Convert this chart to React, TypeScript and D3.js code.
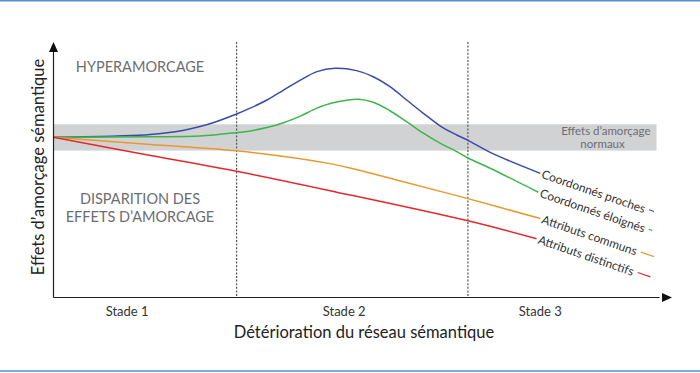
import React, { useEffect, useRef } from "react";
import * as d3 from "d3";

// x: détérioration (0-100), y: effet d'amorçage (0-100)
const coordProches: [number, number][] = [
  [0, 62.7], [10.3, 63.2], [15.6, 63.8], [20.9, 65.4], [23.7, 66.9], [26.4, 68.9],
  [29.5, 71.7], [31.8, 74.1], [34.5, 77.3], [37.2, 81.2], [39.9, 85.1], [42.6, 88.4],
  [45.5, 89.7], [49.0, 88.8], [51.7, 86.4], [54.4, 82.5], [57.1, 77.3], [59.8, 72.1],
  [62.5, 67.2], [65.2, 63.6], [67.1, 61.4], [70.6, 56.8], [78.7, 48.6],
];
const coordEloignes: [number, number][] = [
  [0, 62.7], [15.6, 62.9], [23.7, 63.2], [29.5, 64.5], [31.8, 65.2], [34.5, 66.5],
  [37.2, 68.4], [39.9, 71.0], [42.6, 74.1], [45.2, 76.2], [49.3, 77.6], [51.7, 76.4],
  [54.4, 73.1], [57.1, 68.8], [59.8, 64.3], [62.5, 60.4], [65.2, 57.1], [67.1, 54.5],
  [70.6, 50.6], [78.4, 41.2],
];
const attrCommuns: [number, number][] = [
  [0, 62.7], [15.7, 59.9], [29.6, 57.4], [44.7, 52.4], [48.8, 50.2], [56.1, 45.6],
  [67.0, 38.7], [78.7, 30.9],
];
const attrDistinctifs: [number, number][] = [
  [0, 62.7], [15.7, 55.6], [29.6, 49.4], [44.7, 41.8], [67.0, 30.0], [78.1, 23.0],
];

const seriesNames = ["Coordonnés proches", "Coordonnés éloignés", "Attributs communs", "Attributs distinctifs"];
const seriesColors = ["#3b4ba3", "#3db54a", "#e69a2e", "#e2292d"];
const seriesData = [coordProches, coordEloignes, attrCommuns, attrDistinctifs];

const stageNames = ["Stade 1", "Stade 2", "Stade 3"];
const stageLabelX = [11.9, 47.0, 78.7];
const stageBounds = [29.6, 67.0];
const normalBand = [57.5, 67.8];
const bandEnd = 97.5;

const App = () => {
  const svgRef = useRef<SVGSVGElement>(null);

  useEffect(() => {
    const width = 700,
      height = 373;
    const font = "Lato, 'Open Sans', sans-serif";

    const svg = d3.select(svgRef.current);
    svg.selectAll("*").remove();

    const x = d3.scaleLinear().domain([0, 100]).range([53.5, 672]);
    const y = d3.scaleLinear().domain([0, 100]).range([297.5, 42]);

    // frame lines (top / bottom)
    svg.append("line").attr("x1", 0).attr("x2", width).attr("y1", 0.8).attr("y2", 0.8)
      .attr("stroke", "#5b8fd0").attr("stroke-width", 1.6);
    svg.append("line").attr("x1", 0).attr("x2", width).attr("y1", height - 2).attr("y2", height - 2)
      .attr("stroke", "#5b8fd0").attr("stroke-width", 1.6);

    // grey band: normal priming
    svg.append("rect")
      .attr("x", x(0))
      .attr("y", y(normalBand[1]))
      .attr("width", x(bandEnd) - x(0))
      .attr("height", y(normalBand[0]) - y(normalBand[1]))
      .attr("fill", "#d1d2d4");

    svg.append("text")
      .attr("x", x(bandEnd) - 6)
      .attr("y", y(normalBand[1]) + 10.5)
      .attr("text-anchor", "end")
      .attr("font-family", font).attr("font-size", 11.5).attr("fill", "#6d6e71")
      .text("Effets d’amorçage");
    svg.append("text")
      .attr("x", x(bandEnd) - 54)
      .attr("y", y(normalBand[1]) + 24)
      .attr("text-anchor", "middle")
      .attr("font-family", font).attr("font-size", 11.5).attr("fill", "#6d6e71")
      .text("normaux");

    // stage boundaries
    stageBounds.forEach((b) => {
      svg.append("line")
        .attr("x1", x(b)).attr("x2", x(b))
        .attr("y1", y(100)).attr("y2", y(0))
        .attr("stroke", "#555").attr("stroke-width", 1.2)
        .attr("stroke-dasharray", "2,1.6");
    });

    // region labels
    const regions = [
      { t: "HYPERAMORCAGE", yy: 71.5 },
      { t: "DISPARITION DES", yy: 204 },
      { t: "EFFETS D’AMORCAGE", yy: 221.5 },
    ];
    regions.forEach((r) => {
      svg.append("text")
        .attr("x", 140).attr("y", r.yy)
        .attr("text-anchor", "middle")
        .attr("font-family", font).attr("font-size", 14.5).attr("fill", "#6d6e71")
        .text(r.t);
    });

    // curves
    const line = d3.line<[number, number]>()
      .x((d) => x(d[0]))
      .y((d) => y(d[1]))
      .curve(d3.curveCatmullRom.alpha(0.5));

    seriesData.forEach((data, i) => {
      svg.append("path")
        .attr("d", line(data))
        .attr("fill", "none")
        .attr("stroke", seriesColors[i])
        .attr("stroke-width", 1.5);

      const last = data[data.length - 1];
      const g = svg.append("g")
        .attr("transform", `translate(${x(last[0])}, ${y(last[1])}) rotate(19)`);
      const label = g.append("text")
        .attr("x", 2).attr("y", 4)
        .attr("font-family", font).attr("font-size", 12).attr("fill", "#333")
        .text(seriesNames[i]);
      const len = (label.node() as SVGTextElement).getComputedTextLength();
      g.append("line")
        .attr("x1", len + 6).attr("x2", 120)
        .attr("y1", -1).attr("y2", -1)
        .attr("stroke", seriesColors[i]).attr("stroke-width", 1.2);
    });

    // axes with arrows
    svg.append("line")
      .attr("x1", x(0)).attr("x2", x(0)).attr("y1", y(0)).attr("y2", y(97))
      .attr("stroke", "#222").attr("stroke-width", 1.2);
    svg.append("line")
      .attr("x1", x(0)).attr("x2", x(98)).attr("y1", y(0)).attr("y2", y(0))
      .attr("stroke", "#222").attr("stroke-width", 1.2);
    svg.append("path")
      .attr("d", `M${x(0)},${y(100)} L${x(0) - 4.5},${y(100) + 10} L${x(0) + 4.5},${y(100) + 10} Z`)
      .attr("fill", "#111");
    svg.append("path")
      .attr("d", `M${x(100)},${y(0)} L${x(100) - 10},${y(0) - 4.5} L${x(100) - 10},${y(0) + 4.5} Z`)
      .attr("fill", "#111");

    stageNames.forEach((s, i) => {
      svg.append("text")
        .attr("x", x(stageLabelX[i])).attr("y", 316)
        .attr("text-anchor", "middle")
        .attr("font-family", font).attr("font-size", 13).attr("fill", "#333")
        .text(s);
    });

    svg.append("text")
      .attr("x", 364).attr("y", 337.5)
      .attr("text-anchor", "middle")
      .attr("font-family", font).attr("font-size", 16.5).attr("fill", "#222")
      .text("Détérioration du réseau sémantique");

    svg.append("text")
      .attr("transform", `translate(44, 167) rotate(-90)`)
      .attr("text-anchor", "middle")
      .attr("font-family", font).attr("font-size", 16.5).attr("fill", "#222")
      .text("Effets d’amorçage sémantique");
  }, []);

  return (
    <svg
      ref={svgRef}
      width={700}
      height={373}
      style={{ position: "absolute", left: 0, top: 0, background: "#fff" }}
    ></svg>
  );
};

export default App;
